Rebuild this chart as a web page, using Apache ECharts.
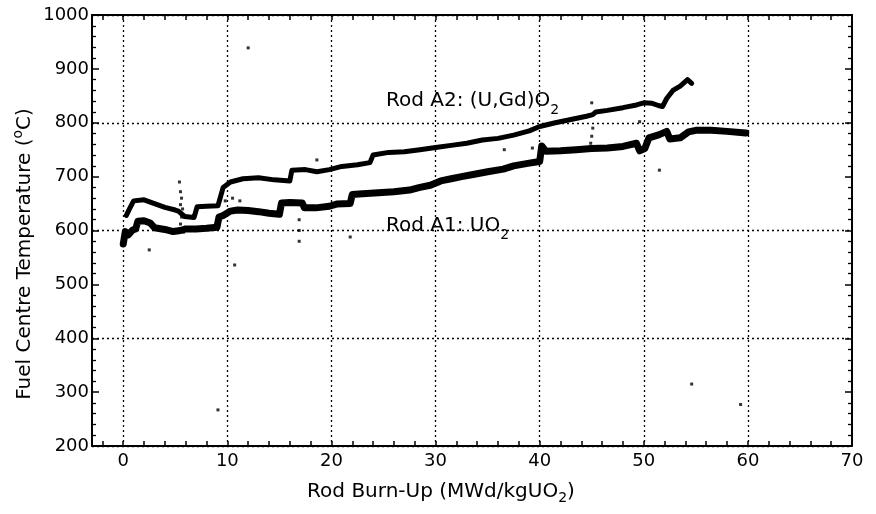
<!DOCTYPE html>
<html><head><meta charset="utf-8">
<script src="https://cdn.jsdelivr.net/npm/echarts@6/dist/echarts.min.js"></script>
<style>html,body{margin:0;padding:0;background:#fff}#c{width:876px;height:514px}</style>
</head><body><div id="c"></div>
<script>
// ---- data ----
const xTickLabels = [0, 10, 20, 30, 40, 50, 60, 70];
const xSmallTicks = [-2, 0, 2, 4, 6, 8, 10, 12, 14, 16, 18, 20, 22, 24, 26, 28, 30, 32, 34, 36, 38, 40, 42, 44, 46, 48, 50, 52, 54, 56, 58, 60, 62, 64, 66, 68, 70];
const xGridValues = [0, 10, 20, 30, 40, 50, 60];

// Rod A1: UO2 (lower band)  [burn-up, temperature]
const rodA1 = [
  [0.0, 575], [0.2, 598], [0.5, 592], [0.9, 601], [1.2, 603], [1.4, 617], [2.0, 618], [2.6, 614],
  [3.0, 605], [4.0, 602], [4.8, 598], [5.5, 600], [6.0, 603], [7.0, 603], [8.0, 604], [9.0, 606],
  [9.2, 625], [9.6, 628], [10.3, 636], [11.0, 638], [12.0, 637], [13.0, 635], [14.0, 632], [15.0, 630],
  [15.2, 651], [16.0, 652], [17.2, 651], [17.4, 642], [18.5, 642], [19.8, 645], [20.5, 649], [21.8, 650],
  [22.0, 667], [23.0, 668], [24.5, 670], [26.0, 672], [27.5, 675], [28.5, 680], [29.5, 684], [30.5, 692],
  [31.5, 696], [32.5, 700], [33.6, 704], [35.0, 709], [36.5, 714], [37.5, 720], [39.0, 725], [40.0, 728],
  [40.2, 757], [40.6, 747], [42.0, 748], [43.5, 750], [45.0, 752], [46.5, 753], [48.0, 756], [49.3, 762],
  [49.6, 748], [50.1, 752], [50.5, 772], [51.5, 778], [52.2, 784], [52.5, 770], [53.5, 772], [54.3, 783],
  [55.0, 786], [56.5, 786], [58.0, 784], [59.8, 781]
];

// Rod A2: (U,Gd)O2 (upper band)
const rodA2 = [
  [0.3, 628], [0.6, 640], [1.0, 655], [2.0, 657], [3.0, 650], [4.0, 643], [5.0, 638], [5.3, 636],
  [5.9, 626], [6.8, 624], [7.1, 644], [8.0, 645], [9.1, 646], [9.6, 680], [10.3, 690], [11.5, 696],
  [13.0, 698], [14.5, 694], [16.0, 692], [16.2, 712], [17.5, 713], [18.6, 709], [19.8, 713], [21.0, 719],
  [22.5, 722], [23.7, 726], [24.0, 740], [25.5, 745], [27.0, 746], [28.5, 750], [30.0, 754], [31.5, 758],
  [33.0, 762], [34.5, 768], [36.0, 771], [37.5, 777], [39.0, 785], [40.0, 793], [41.5, 800], [43.0, 806],
  [44.5, 812], [45.1, 815], [45.4, 820], [46.5, 823], [48.0, 828], [49.3, 833], [50.0, 837], [50.8, 836],
  [51.4, 832], [51.8, 830], [52.2, 845], [52.8, 860], [53.5, 868], [54.2, 880], [54.6, 873]
];

// isolated dots / spikes
const strayPoints = [
  [5.4, 690], [5.5, 672], [5.6, 660], [5.5, 648], [5.7, 640], [5.6, 625], [5.5, 612], [5.8, 597],
  [9.8, 655], [10.5, 660], [11.2, 655], [16.9, 620], [16.9, 600], [16.9, 580], [18.6, 731],
  [36.6, 750], [39.3, 753], [45.0, 837], [45.1, 790], [45.0, 775], [44.9, 762], [49.6, 802],
  [12.0, 939], [9.1, 267], [59.3, 277], [54.6, 315], [2.5, 564], [10.7, 536], [21.8, 588], [51.5, 712]
];

const yMin = 200, yMax = 1000;
const xMin = -3, xMax = 70;

// ---- chart ----
const FONT = "'DejaVu Sans', 'Liberation Sans', sans-serif";
const chart = echarts.init(document.getElementById('c'), null, {renderer: 'canvas'});
const ctx = document.createElement('canvas').getContext('2d');
function tw(t, size) { ctx.font = size + 'px ' + FONT; return ctx.measureText(t).width; }

const axisLineStyle = {color: '#000', width: 2};
const tickStyle = {color: '#000', width: 1.5};
const labelStyle = {fontFamily: FONT, fontSize: 18, color: '#000'};
const gridDash = {type: [2, 3], color: '#000', width: 1.3};

function runs(parts, x0, y) {
  const els = [];
  let x = x0;
  parts.forEach(p => {
    els.push({type: 'text', x: x, y: y + (p.dy || 0), silent: true,
      style: {text: p.t, font: p.size + 'px ' + FONT, fill: '#000', align: 'left', verticalAlign: 'middle'}});
    x += tw(p.t, p.size);
  });
  return els;
}
function runsWidth(parts) { return parts.reduce((s, p) => s + tw(p.t, p.size), 0); }

const xTitle = [{t: 'Rod Burn-Up (MWd/kgUO', size: 20}, {t: '2', size: 14, dy: 6}, {t: ')', size: 20}];
const yTitle = [{t: 'Fuel Centre Temperature (', size: 20}, {t: 'o', size: 14, dy: -7}, {t: 'C)', size: 20}];
const a2Label = [{t: 'Rod A2: (U,Gd)O', size: 20}, {t: '2', size: 14, dy: 9}];
const a1Label = [{t: 'Rod A1: UO', size: 20}, {t: '2', size: 14, dy: 9}];

const graphics = [];
runs(xTitle, 441 - runsWidth(xTitle) / 2, 492).forEach(e => graphics.push(e));
runs(a2Label, 386, 101).forEach(e => graphics.push(e));
runs(a1Label, 386, 226).forEach(e => graphics.push(e));
graphics.push({type: 'group', x: 25, y: 254, rotation: Math.PI / 2,
  children: runs(yTitle, -runsWidth(yTitle) / 2, 0)});

chart.setOption({
  animation: false,
  backgroundColor: '#fff',
  grid: {left: 92, right: 24, top: 15, bottom: 68, containLabel: false},
  xAxis: [
    {type: 'value', position: 'bottom', min: xMin, max: xMax,
      axisLine: {show: true, onZero: false, lineStyle: axisLineStyle},
      axisTick: {show: true, inside: true, length: 5, lineStyle: tickStyle, customValues: xSmallTicks},
      axisLabel: Object.assign({customValues: xTickLabels, margin: 6, showMinLabel: true, showMaxLabel: true}, labelStyle),
      splitLine: {show: false}},
    {type: 'value', position: 'top', min: xMin, max: xMax,
      axisLine: {show: true, onZero: false, lineStyle: axisLineStyle},
      axisTick: {show: true, inside: true, length: 5, lineStyle: tickStyle, customValues: xSmallTicks},
      axisLabel: {show: false}, splitLine: {show: false}},
    {type: 'value', position: 'bottom', min: xMin, max: xMax,
      axisLine: {show: false, onZero: false}, axisLabel: {show: false},
      axisTick: {show: false, customValues: xGridValues},
      splitLine: {show: true, lineStyle: gridDash}}
  ],
  yAxis: [
    {type: 'value', position: 'left', min: yMin, max: yMax, interval: 100,
      axisLine: {show: true, onZero: false, lineStyle: axisLineStyle},
      axisTick: {show: true, inside: true, length: 7, lineStyle: tickStyle},
      minorTick: {show: true, splitNumber: 5, length: 4, lineStyle: {color: '#000', width: 1.3}},
      axisLabel: Object.assign({margin: 3, formatter: v => String(v)}, labelStyle),
      splitLine: {show: false}},
    {type: 'value', position: 'right', min: yMin, max: yMax, interval: 100,
      axisLine: {show: true, onZero: false, lineStyle: axisLineStyle},
      axisTick: {show: true, inside: true, length: 7, lineStyle: tickStyle},
      minorTick: {show: true, splitNumber: 5, length: 4, lineStyle: {color: '#000', width: 1.3}},
      axisLabel: {show: false}, splitLine: {show: false}},
    {type: 'value', position: 'left', min: yMin, max: yMax, interval: 200,
      axisLine: {show: false, onZero: false}, axisTick: {show: false}, axisLabel: {show: false},
      splitLine: {show: true, lineStyle: gridDash}}
  ],
  series: [
    {name: 'Rod A1: UO2', type: 'line', xAxisIndex: 0, yAxisIndex: 0, data: rodA1,
      showSymbol: false, symbol: 'none', lineStyle: {color: '#000', width: 7, join: 'round', cap: 'round'}, z: 5},
    {name: 'Rod A2: (U,Gd)O2', type: 'line', xAxisIndex: 0, yAxisIndex: 0, data: rodA2,
      showSymbol: false, symbol: 'none', lineStyle: {color: '#000', width: 5, join: 'round', cap: 'round'}, z: 5},
    {name: 'stray', type: 'scatter', xAxisIndex: 0, yAxisIndex: 0, data: strayPoints,
      symbol: 'rect', symbolSize: 3, itemStyle: {color: '#000'}, z: 5}
  ],
  graphic: graphics
});
</script>
</body></html>
